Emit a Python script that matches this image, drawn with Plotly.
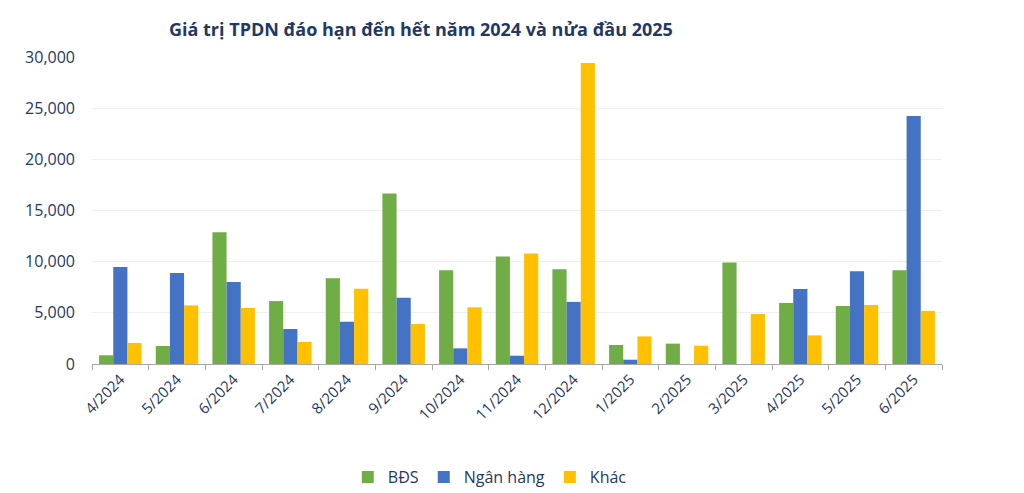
import plotly.graph_objects as go

categories = ["4/2024", "5/2024", "6/2024", "7/2024", "8/2024", "9/2024", "10/2024",
              "11/2024", "12/2024", "1/2025", "2/2025", "3/2025", "4/2025", "5/2025", "6/2025"]
bds = [850, 1760, 12870, 6150, 8370, 16650, 9150, 10500, 9260, 1860, 1990, 9910, 5970, 5670, 9160]
ngan_hang = [9480, 8890, 8010, 3420, 4130, 6480, 1530, 810, 6070, 420, 0, 0, 7340, 9060, 24230]
khac = [2050, 5730, 5470, 2150, 7360, 3910, 5540, 10790, 29410, 2700, 1790, 4890, 2800, 5770, 5190]

navy = "#1F3864"
fig = go.Figure()
for name, vals, color in [("BĐS", bds, "#70AD47"), ("Ngân hàng", ngan_hang, "#4472C4"), ("Khác", khac, "#FFC000")]:
    fig.add_trace(go.Bar(name=name, x=categories, y=vals, marker=dict(color=color, line=dict(width=0))))

fig.update_layout(
    width=1024, height=493,
    barmode="group", bargap=0.25, bargroupgap=0,
    paper_bgcolor="white", plot_bgcolor="white",
    margin=dict(l=92, r=82, t=57, b=129, autoexpand=False),
    font=dict(family="Open Sans, Noto Sans, sans-serif", color=navy),
    title=dict(text="<b>Giá trị TPDN đáo hạn đến hết năm 2024 và nửa đầu 2025</b>",
               x=0.387, xref="paper", xanchor="center", y=0.939, yref="container", yanchor="middle",
               font=dict(size=18, color=navy)),
    legend=dict(orientation="h", x=0.468, xanchor="center", y=-0.368, yanchor="middle",
                font=dict(size=16, color=navy), traceorder="normal", itemwidth=30),
    showlegend=True,
)
fig.update_xaxes(showline=True, linecolor="#A6A6A6", linewidth=1, ticks="outside", tickson="boundaries",
                 ticklen=5, tickcolor="#A6A6A6", tickangle=-45, tickfont=dict(size=15, color=navy),
                 showgrid=False, automargin=False)
fig.update_yaxes(range=[0, 30000], dtick=5000, tickformat=",", showgrid=True, gridcolor="#EFEFEF",
                 showline=False, zeroline=False, tickfont=dict(size=16, color=navy), ticks="", ticklen=0,
                 ticklabelstandoff=16, automargin=False)

fig.write_html("out.html", config={"displayModeBar": False})

with open("out.html", "r", encoding="utf-8") as f:
    html = f.read()
html = html.replace("<head>", "<head><style>html,body{margin:0;padding:0;overflow:hidden;}</style>", 1)
with open("out.html", "w", encoding="utf-8") as f:
    f.write(html)
